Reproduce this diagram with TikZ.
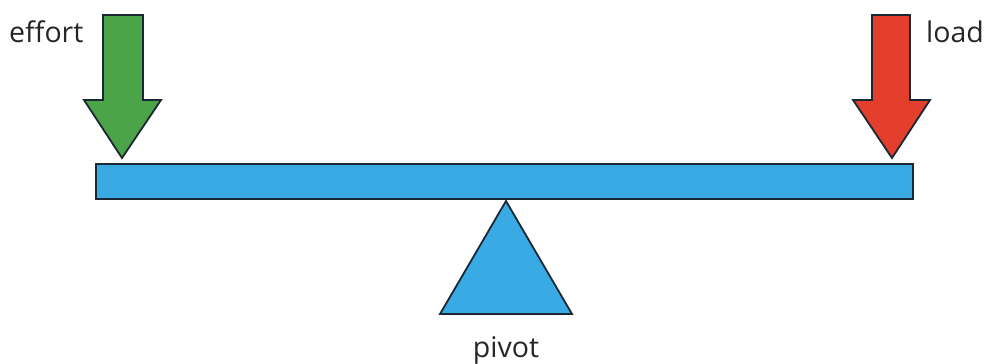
\documentclass[tikz,border=0pt]{standalone}
\usepackage{fontspec}
\setmainfont{Open Sans}
\definecolor{beamblue}{RGB}{58,170,228}
\definecolor{effgreen}{RGB}{76,164,72}
\definecolor{loadred}{RGB}{228,62,44}
\definecolor{edge}{RGB}{25,40,50}
\begin{document}
\begin{tikzpicture}[x=1pt,y=-1pt,
  part/.style={draw=edge,line width=1.8pt,line join=miter},
  lbl/.style={font=\fontsize{28.5}{31}\selectfont,text=black!85,inner sep=0pt}]
\useasboundingbox (0,0) rectangle (989,364);
% beam
\draw[part,fill=beamblue] (96,164) rectangle (913,199);
% pivot
\draw[part,fill=beamblue] (506,201) -- (572,314) -- (440,314) -- cycle;
% effort arrow
\draw[part,fill=effgreen] (103,15) -- (143,15) -- (143,100) -- (161,100) -- (122,158) -- (84,100) -- (103,100) -- cycle;
% load arrow
\draw[part,fill=loadred] (872,15) -- (910,15) -- (910,100) -- (930,100) -- (892,158) -- (853,100) -- (872,100) -- cycle;
% labels
\node[lbl,anchor=base west] (effort) at (9,42) {effort};
\node[lbl,anchor=base west] (load) at (926,42) {load};
\node[lbl,anchor=base] (pivot) at (506,357) {pivot};
\end{tikzpicture}
\end{document}
